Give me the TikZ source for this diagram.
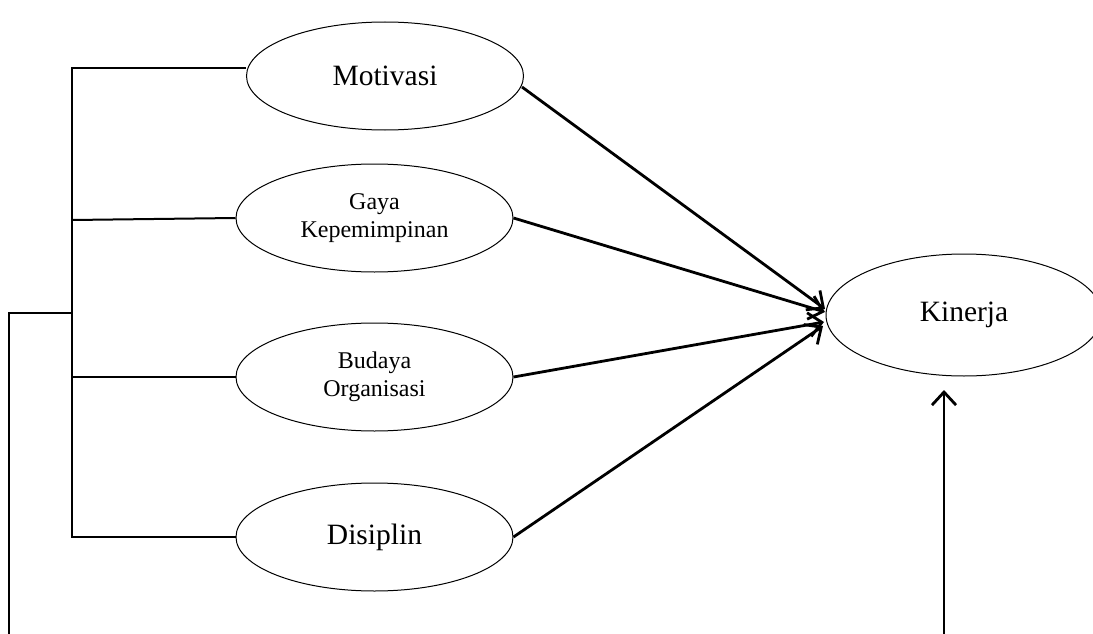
\documentclass[tikz,border=0pt]{standalone}
\usepackage{fontspec}
\setmainfont{Liberation Serif}
\usetikzlibrary{shapes.geometric,arrows.meta}
\begin{document}
\begin{tikzpicture}[x=1pt,y=-1pt,
  var/.style={ellipse,draw,line width=1pt,inner sep=0pt,minimum width=277pt,minimum height=108pt,align=center},
  big/.style={font=\fontsize{29.5}{35}\selectfont},
  small/.style={font=\fontsize{24}{28}\selectfont},
  tree/.style={line width=2pt},
  arr/.style={line width=2.8pt,-{Straight Barb[length=13pt,width=24pt]}}]
\useasboundingbox (0,0) rectangle (1093,634);
\node[var,big] (mot) at (385,76) {Motivasi};
\node[var,small] (gaya) at (374.5,218) {Gaya\\Kepemimpinan};
\node[var,small] (bud) at (374.5,377) {Budaya\\Organisasi};
\node[var,big] (dis) at (374.5,537) {Disiplin};
\node[var,big,minimum width=276pt,minimum height=122pt] (kin) at (964,315) {Kinerja};
% tree on the left
\coordinate (top) at (72,68);
\coordinate (bot) at (72,537);
\coordinate (mid) at (72,313);
\coordinate (lft) at (9,313);
\coordinate (lftb) at (9,634);
\draw[tree] (mot.west |- top) -- (top) -- (bot) -- (dis.west);
\draw[tree] (72,220) -- (gaya.west);
\draw[tree] (72,377) -- (bud.west);
\draw[tree] (mid) -- (lft) -- (lftb);
% arrows into Kinerja
\coordinate (t1) at (825,309);
\coordinate (t2) at (825,312);
\coordinate (t3) at (824,322);
\coordinate (t4) at (823,326);
\coordinate (m1) at (522,87);
\draw[arr] (m1) -- (t1);
\draw[arr] (gaya.east) -- (t2);
\draw[arr] (bud.east) -- (t3);
\draw[arr] (dis.east) -- (t4);
\coordinate (b0) at (944,634);
\draw[arr] (b0) -- (944,390) coordinate (kb);
\end{tikzpicture}
\end{document}
